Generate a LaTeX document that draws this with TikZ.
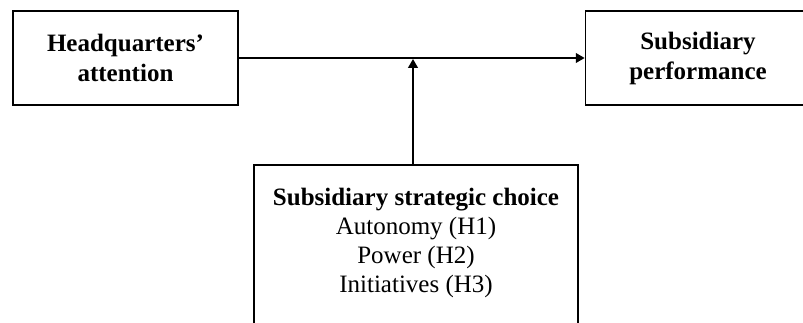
\documentclass[tikz,border=0pt]{standalone}
\usepackage{fontspec}
\setmainfont{Liberation Serif}
\usetikzlibrary{arrows.meta}
\tikzset{
  varbox/.style={draw, line width=0.8pt, align=center, inner sep=0pt,
    minimum width=108pt, minimum height=45pt,
    font=\fontsize{12}{14.4}\selectfont\bfseries},
  choicebox/.style={draw, line width=0.8pt, align=center, inner xsep=0pt,
    inner ysep=11.2pt, minimum width=155.5pt, text depth=80pt,
    font=\fontsize{12}{13.9}\selectfont},
  tip/.style={-{Triangle[length=4.2pt,width=4.6pt]}, line width=0.8pt}
}
\begin{document}
\begin{tikzpicture}[x=0.48pt,y=-0.48pt]
\useasboundingbox (0,0) rectangle (803,323);
\clip (0,0) rectangle (803,323);
\node[varbox] (hq) at (125.5,58) {Headquarters'\\attention};
\node[varbox] (perf) at (698,58) {Subsidiary\\performance};
\node[choicebox, anchor=north] (choice) at (416,164)
  {\textbf{Subsidiary strategic choice}\\Autonomy (H1)\\Power (H2)\\Initiatives (H3)};
\coordinate (join) at (413,59);

\path[tip] (hq) edge (perf);
\path[tip] (join |- choice.north) edge (join);
\end{tikzpicture}
\end{document}
